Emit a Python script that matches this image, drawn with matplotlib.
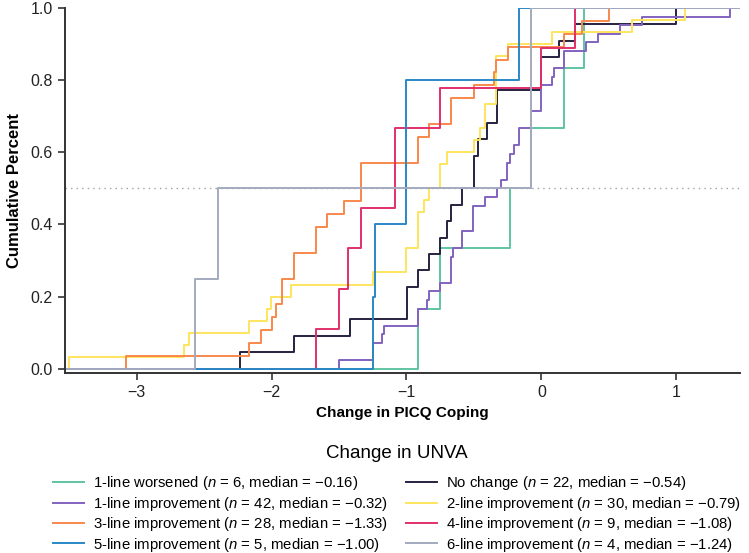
import numpy as np
import matplotlib
matplotlib.use("Agg")
import matplotlib.pyplot as plt

plt.rcParams['font.family'] = ['Liberation Sans', 'DejaVu Sans']
plt.rcParams['mathtext.fontset'] = 'custom'
plt.rcParams['mathtext.rm'] = 'Liberation Sans'
plt.rcParams['mathtext.it'] = 'Liberation Sans:italic'

# ---- data ----
worsened = [-0.918, -0.75, -0.234, -0.081, 0.165, 0.317]
no_change = [-2.234, -1.833, -1.417, -0.999, -0.999, -0.918, -0.836, -0.750, -0.703,
             -0.667, -0.585, -0.50, -0.50, -0.467, -0.40, -0.332, -0.332, -0.007,
             -0.007, 0.133, 0.251, 1.00]
line1 = [-1.50, -1.25, -1.25, -1.183, -1.168, -0.918, -0.918, -0.851, -0.836, -0.75,
         -0.667, -0.667, -0.667, -0.652, -0.585, -0.585, -0.504, -0.504, -0.504,
         -0.418, -0.332, -0.303, -0.253, -0.253, -0.234, -0.204, -0.167, -0.167,
         -0.081, -0.081, -0.002, -0.002, -0.002, 0.079, 0.096, 0.165, 0.165, 0.332,
         0.416, 0.583, 0.748, 1.40]
line2 = [-3.50, -2.652, -2.615, -2.167, -2.037, -2.005, -1.852, -1.25, -1.004, -1.004,
         -0.918, -0.918, -0.918, -0.868, -0.836, -0.753, -0.753, -0.703, -0.50, -0.455,
         -0.42, -0.42, -0.339, -0.339, -0.339, -0.339, -0.25, 0.079, 0.669, 1.063]
line3 = [-3.08, -2.167, -2.081, -1.995, -1.970, -1.919, -1.919, -1.835, -1.835, -1.668,
         -1.668, -1.587, -1.466, -1.34, -1.336, -1.336, -0.918, -0.918, -0.836, -0.667,
         -0.667, -0.50, -0.352, -0.339, -0.249, 0.165, 0.30, 0.497]
line4 = [-1.668, -1.50, -1.434, -1.336, -1.083, -1.083, -0.75, -0.007, 0.251]
line5 = [-1.25, -1.235, -1.0, -1.0, -0.167]
line6 = [-2.566, -2.40, -0.081, -0.081]

series = [worsened, no_change, line1, line2, line3, line4, line5, line6]
labels = [
    "1-line worsened ($n$ = 6, median = \u22120.16)",
    "No change ($n$ = 22, median = \u22120.54)",
    "1-line improvement ($n$ = 42, median = \u22120.32)",
    "2-line improvement ($n$ = 30, median = \u22120.79)",
    "3-line improvement ($n$ = 28, median = \u22121.33)",
    "4-line improvement ($n$ = 9, median = \u22121.08)",
    "5-line improvement ($n$ = 5, median = \u22121.00)",
    "6-line improvement ($n$ = 4, median = \u22121.24)",
]
colors = ["#5fc4a2", "#25223f", "#8262bf", "#fde55e", "#f8884c", "#e0306a", "#2a88c6", "#a4aabf"]

xticks = [-3, -2, -1, 0, 1]
yticks = [0.0, 0.2, 0.4, 0.6, 0.8, 1.0]

fig = plt.figure(figsize=(7.49, 5.53), dpi=100)
ax = fig.add_axes([0.0868, 0.3255, 0.901, 0.66])

ax.axhline(0.5, color="#a0a0a0", linestyle=(0, (1, 3)), lw=1.0, zorder=1)

handles = []
for vals, lab, col in zip(series, labels, colors):
    v = np.sort(np.asarray(vals))
    n = len(v)
    y = np.arange(1, n + 1) / n
    xs = np.concatenate([[-100.0], v, [100.0]])
    ys = np.concatenate([[0.0], y, [1.0]])
    h, = ax.plot(xs, ys, drawstyle="steps-post", color=col, lw=1.4, label=lab, zorder=2)
    handles.append(h)

ax.set_xlim(-3.53, 1.47)
ax.set_ylim(-0.012, 1.0)
ax.set_xticks(xticks)
ax.set_yticks(yticks)
ax.set_yticklabels([f"{t:.1f}" for t in yticks])
for s in ["top", "right"]:
    ax.spines[s].set_visible(False)
for s in ["left", "bottom"]:
    ax.spines[s].set_color("#333333")
    ax.spines[s].set_linewidth(1.4)
ax.tick_params(axis="both", direction="out", length=5, width=1.2, color="#333333",
               labelsize=11.5, labelcolor="#222222", pad=4)
ax.set_xlabel("Change in PICQ Coping", fontsize=11, fontweight="bold", labelpad=4)
ax.set_ylabel("Cumulative Percent", fontsize=12, fontweight="bold", labelpad=6)

order = [0, 2, 4, 6, 1, 3, 5, 7]
leg = fig.legend([handles[i] for i in order], [labels[i] for i in order], ncol=2,
                 loc="upper left", bbox_to_anchor=(53 / 749, 1 - 445 / 553), frameon=False,
                 fontsize=10.7, title="Change in UNVA", title_fontsize=13.5,
                 handlelength=2.1, handletextpad=0.6, columnspacing=1.2,
                 labelspacing=0.16, borderaxespad=0.0, borderpad=0.0)
leg._legend_box.sep = 9

fig.savefig("out.png", dpi=100)
